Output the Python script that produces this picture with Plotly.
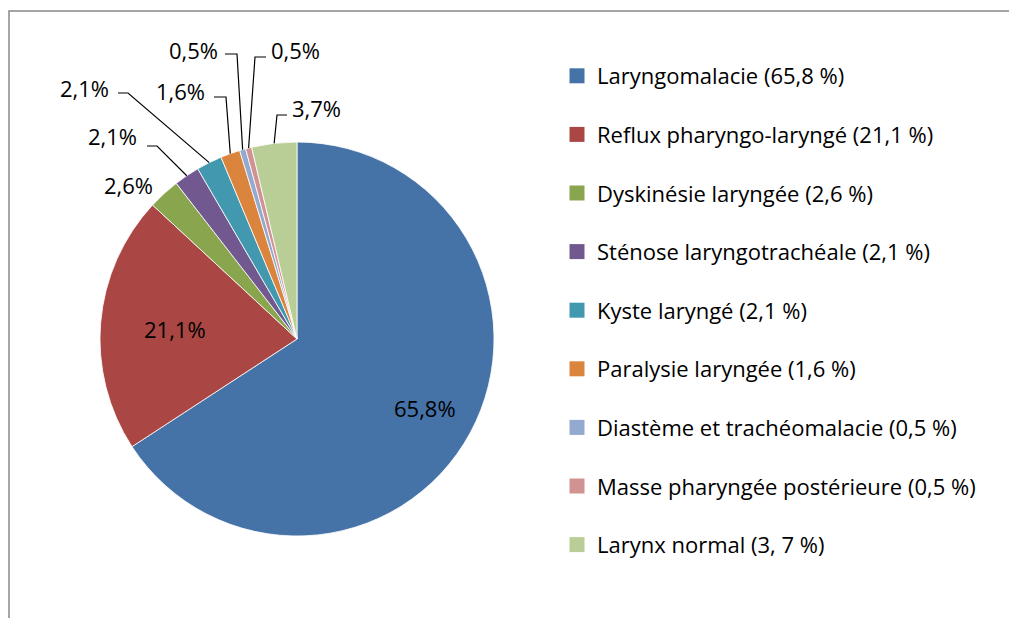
import math

import plotly.graph_objects as go

# Data
categories = [
    "Laryngomalacie",
    "Reflux pharyngo-laryngé",
    "Dyskinésie laryngée",
    "Sténose laryngotrachéale",
    "Kyste laryngé",
    "Paralysie laryngée",
    "Diastème et trachéomalacie",
    "Masse pharyngée postérieure",
    "Larynx normal",
]
values = [65.8, 21.1, 2.6, 2.1, 2.1, 1.6, 0.5, 0.5, 3.7]
legend_labels = [
    "Laryngomalacie (65,8 %)",
    "Reflux pharyngo-laryngé (21,1 %)",
    "Dyskinésie laryngée (2,6 %)",
    "Sténose laryngotrachéale (2,1 %)",
    "Kyste laryngé (2,1 %)",
    "Paralysie laryngée (1,6 %)",
    "Diastème et trachéomalacie (0,5 %)",
    "Masse pharyngée postérieure (0,5 %)",
    "Larynx normal (3, 7 %)",
]
colors = ["#4572A7", "#AA4643", "#89A54E", "#71588F", "#4198AF",
          "#DB843D", "#93A9CF", "#D19392", "#B9CD96"]

W, H = 1009, 618
FONT = "Open Sans"
FS = 22

# pie geometry (pixels)
CX, CY, R = 297, 339, 197

# label placement (pixels): text centre, and leader elbow (start, end) or None
label_pos = [
    ("inside", 0.74),
    ("inside", 0.62),
    ((128, 185), None),
    ((112, 136), ((147, 146), (157, 146))),
    ((84, 88), ((118, 93), (128, 93))),
    ((180, 91), ((214, 97), (226, 97))),
    ((193, 50), ((225, 54), (237, 54))),
    ((295, 50), ((266, 57), (255, 57))),
    ((316, 108), ((287, 115), (277, 115))),
]


def px(x):
    return x / W


def py(y):
    return 1 - y / H


fig = go.Figure()

fig.add_trace(go.Pie(
    labels=categories, values=values,
    sort=False, direction="clockwise", rotation=0,
    marker=dict(colors=colors, line=dict(color="white", width=0.8)),
    textinfo="none", hoverinfo="label+percent",
    showlegend=False,
    domain=dict(x=[px(CX - R), px(CX + R)], y=[py(CY + R), py(CY - R)]),
))

# legend entries (one group each so gaps can be set)
for name, col in zip(legend_labels, colors):
    fig.add_trace(go.Scatter(
        x=[None], y=[None], mode="markers", name=name,
        legendgroup=name,
        marker=dict(symbol="square", size=15, color=col),
    ))

# data labels and leader lines
total = sum(values)
cum = 0
shapes = []
annotations = []
for v, pos in zip(values, label_pos):
    mid = (cum + v / 2) / total * 2 * math.pi
    cum += v
    text = f"{v:.1f}".replace(".", ",") + "%"
    if pos[0] == "inside":
        f = pos[1]
        tx, ty = CX + f * R * math.sin(mid), CY - f * R * math.cos(mid)
        leader = None
    else:
        (tx, ty), leader = pos
    annotations.append(dict(
        x=px(tx), y=py(ty), xref="paper", yref="paper", text=text,
        showarrow=False, xanchor="center", yanchor="middle",
        font=dict(family=FONT, size=FS, color="black"),
    ))
    if leader:
        ex, ey = CX + R * math.sin(mid), CY - R * math.cos(mid)
        (ax, ay), (bx, by) = leader
        shapes.append(dict(
            type="path", xref="paper", yref="paper",
            path=f"M {px(ax)} {py(ay)} L {px(bx)} {py(by)} L {px(ex)} {py(ey)}",
            line=dict(color="black", width=1.2),
        ))

# chart frame (top and left edges visible)
shapes.append(dict(
    type="path", xref="paper", yref="paper",
    path=f"M {px(9)} {py(H + 5)} L {px(9)} {py(11)} L {px(W + 5)} {py(11)}",
    line=dict(color="#888888", width=1.5),
))

fig.update_layout(
    width=W, height=H,
    margin=dict(l=0, r=0, t=0, b=0),
    paper_bgcolor="white", plot_bgcolor="white",
    font=dict(family=FONT, size=FS, color="black"),
    xaxis=dict(visible=False), yaxis=dict(visible=False),
    showlegend=True,
    legend=dict(
        x=px(557), y=py(55), xanchor="left", yanchor="top",
        tracegroupgap=27, font=dict(family=FONT, size=FS, color="black"),
        bgcolor="rgba(0,0,0,0)",
    ),
    shapes=shapes, annotations=annotations,
)

fig.write_html(
    "out.html",
    config={"displayModeBar": False},
    post_script="document.body.style.margin='0';",
)
